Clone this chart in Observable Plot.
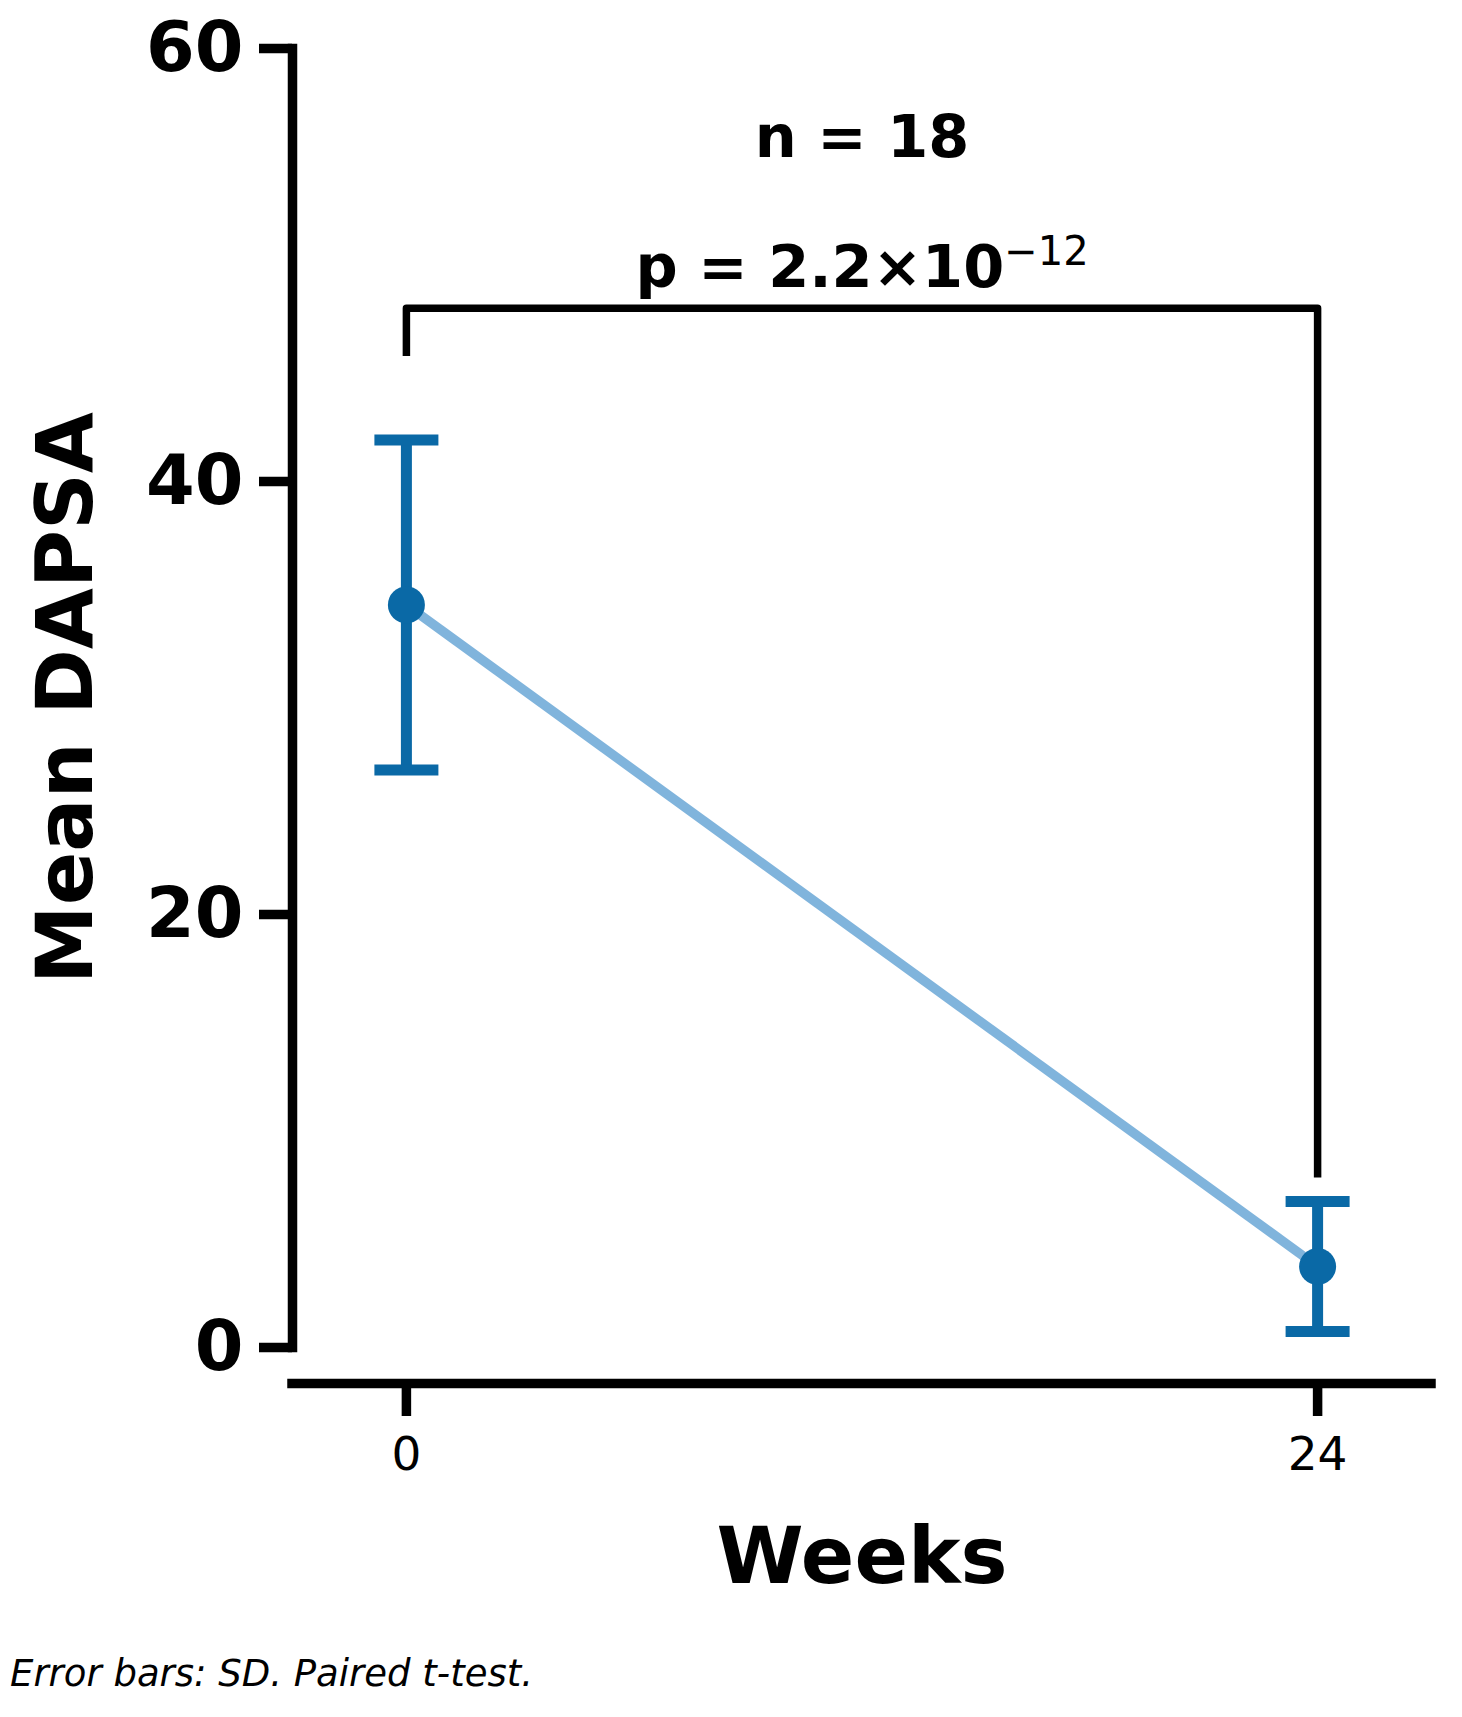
<!DOCTYPE html>
<html>
<head>
<meta charset="utf-8">
<script src="https://cdn.jsdelivr.net/npm/d3@7"></script>
<script src="https://cdn.jsdelivr.net/npm/@observablehq/plot@0.6"></script>
<style>
  html, body { margin: 0; padding: 0; background: #ffffff; }
  #wrap { position: relative; width: 1462px; height: 1717px; }
  #caption {
    position: absolute; left: 10px; top: 1655px;
    font-family: "DejaVu Sans", sans-serif; font-style: italic;
    font-size: 37px; line-height: 1; color: #000; white-space: nowrap;
  }
</style>
</head>
<body>
<div id="wrap">
  <div id="chart"></div>
  <div id="caption">Error bars: SD. Paired t-test.</div>
</div>
<script>
// ---- data ----
const weeks = [0, 24];
const meanDAPSA = [34.3, 3.74];
const sdDAPSA = [7.62, 3.0];
const xTicks = [0, 24];
const yTicks = [0, 20, 40, 60];
const xLabel = "Weeks";
const yLabel = "Mean DAPSA";
const nText = "n = 18";
const pBase = "p = 2.2×10";
const pExp = "−12";
const bracketTop = 48;
const bracketLegEnds = [45.8, 7.85];
const nTextY = 55;
const pTextY = 49;

// ---- derived tables ----
const rows = weeks.map((w, i) => ({
  week: w, mean: meanDAPSA[i], lo: meanDAPSA[i] - sdDAPSA[i], hi: meanDAPSA[i] + sdDAPSA[i]
}));
const bracket = [
  {x: weeks[0], y: bracketLegEnds[0]},
  {x: weeks[0], y: bracketTop},
  {x: weeks[1], y: bracketTop},
  {x: weeks[1], y: bracketLegEnds[1]}
];
const midWeek = (weeks[0] + weeks[1]) / 2;

const dark = "#0a69a6";
const light = "#80b4dc";

// horizontal cap symbol for error bars
const capSymbol = {
  draw(context, size) {
    const h = Math.sqrt(size / Math.PI);
    context.moveTo(-h, 0);
    context.lineTo(h, 0);
  }
};

const W = 1462, H = 1630;
const chart = Plot.plot({
  width: W,
  height: H,
  marginLeft: 292,
  marginRight: 31,
  marginTop: 48,
  marginBottom: H - 1347,
  style: {fontFamily: "DejaVu Sans, sans-serif", background: "white", overflow: "visible", color: "black"},
  x: {domain: [-3, 27]},
  y: {domain: [0, 60]},
  marks: [
    // spines
    Plot.frame({anchor: "left", strokeWidth: 9.5, strokeLinecap: "square", stroke: "black"}),
    Plot.ruleY([0], {dy: 36, strokeWidth: 9.5, strokeLinecap: "square", stroke: "black"}),
    // axes
    Plot.axisY({ticks: yTicks, tickSize: 33, tickPadding: 16, fontSize: 70, fontWeight: "bold",
      strokeWidth: 9.5, label: null, tickFormat: d => String(d)}),
    Plot.axisX({ticks: xTicks, tickSize: 33, tickPadding: 20, dy: 36, fontSize: 47,
      strokeWidth: 9.5, label: null, tickFormat: d => String(d)}),
    Plot.text([yLabel], {frameAnchor: "left", dx: -201, rotate: -90, textAnchor: "middle",
      lineAnchor: "bottom", fontSize: 79, fontWeight: "bold", fill: "black"}),
    Plot.text([xLabel], {frameAnchor: "bottom", dy: 235, textAnchor: "middle",
      lineAnchor: "bottom", fontSize: 79, fontWeight: "bold", fill: "black"}),
    // connecting line
    Plot.line(rows, {x: "week", y: "mean", stroke: light, strokeWidth: 9.5, strokeLinecap: "butt"}),
    // error bars
    Plot.ruleX(rows, {x: "week", y1: "lo", y2: "hi", stroke: dark, strokeWidth: 11}),
    Plot.dot(rows, {x: "week", y: "hi", symbol: capSymbol, r: 32, fill: "none", stroke: dark, strokeWidth: 11, strokeLinecap: "butt"}),
    Plot.dot(rows, {x: "week", y: "lo", symbol: capSymbol, r: 32, fill: "none", stroke: dark, strokeWidth: 11, strokeLinecap: "butt"}),
    Plot.dot(rows, {x: "week", y: "mean", r: 18.5, fill: dark, stroke: "none"}),
    // significance bracket
    Plot.line(bracket, {x: "x", y: "y", stroke: "black", strokeWidth: 7.5, strokeLinejoin: "round", strokeLinecap: "butt"}),
    Plot.text([nText], {x: () => midWeek, y: () => nTextY, textAnchor: "middle", lineAnchor: "bottom",
      fontSize: 59, fontWeight: "bold", fill: "black"}),
    Plot.text([pBase + pExp], {x: () => midWeek, y: () => pTextY, textAnchor: "middle", lineAnchor: "bottom",
      fontSize: 59, fontWeight: "bold", fill: "black"})
  ]
});

// rich text: superscript exponent in the p-value label
d3.select(chart).selectAll("text").each(function () {
  if (this.textContent === pBase + pExp) {
    const t = d3.select(this);
    t.text(null);
    t.append("tspan").text(pBase);
    t.append("tspan").attr("dy", -22).attr("font-size", 40).attr("font-weight", "normal").text(pExp);
  }
});

document.getElementById("chart").appendChild(chart);
</script>
</body>
</html>
